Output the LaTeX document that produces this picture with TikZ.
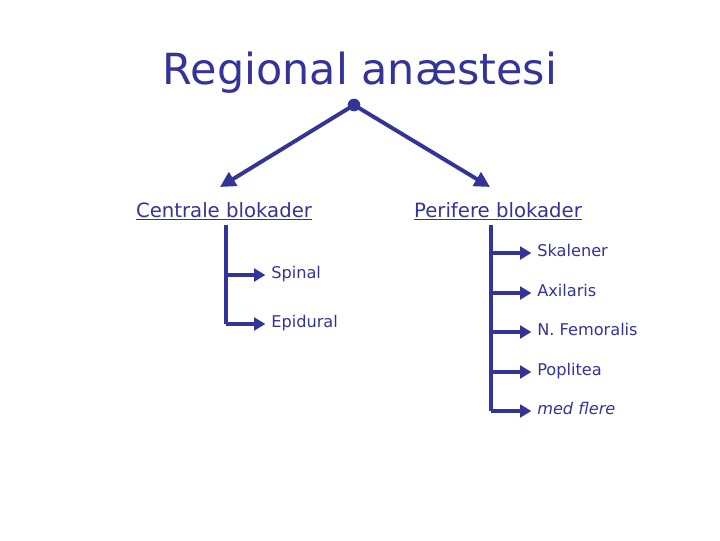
\documentclass[tikz,border=0pt]{standalone}
\usepackage{fontspec}
\setmainfont{DejaVu Sans}
\usepackage{tikz}
\usetikzlibrary{arrows.meta, positioning}
\usepackage{xcolor}
\definecolor{slideblue}{RGB}{51, 51, 153}

\begin{document}
\begin{tikzpicture}[x=0.025cm, y=-0.025cm, >=Triangle, slideblue]
  \tikzset{
    split/.style={->, line width=2.8pt, arrows={-Triangle[length=11pt, width=11pt]}},
    branch/.style={->, line width=2.3pt, arrows={-Triangle[length=8pt, width=9pt]}},
    head/.style={anchor=base, inner sep=0pt, font=\fontsize{14}{17}\selectfont},
    item/.style={anchor=mid west, inner sep=0pt, font=\fontsize{11.5}{14}\selectfont}
  }
  \useasboundingbox (0, 0) rectangle (720, 540);

  \node[anchor=base, inner sep=0pt, font=\fontsize{30.5}{36}\selectfont] (title) at (360, 84) {Regional anæstesi};
  \node[fill, circle, inner sep=0pt, minimum size=9pt] (top) at (354, 105) {};

  \coordinate (lend) at (220, 187);
  \coordinate (rend) at (490, 187);
  \draw[split] (top.center) -- (lend);
  \draw[split] (top.center) -- (rend);

  \node[head] (central) at (224, 217) {\underline{Centrale blokader}};
  \node[head] (periph) at (498, 217) {\underline{Perifere blokader}};

  % central blocks
  \coordinate (ltop) at (226, 225);
  \node[item] (spinal) at (271, 275) {Spinal};
  \node[item] (epidural) at (271, 324) {Epidural};
  \draw[line width=2.3pt] (ltop) -- (ltop|-epidural.mid west);
  \draw[branch] (ltop|-spinal.mid west) -- ([xshift=-4pt]spinal.mid west);
  \draw[branch] (ltop|-epidural.mid west) -- ([xshift=-4pt]epidural.mid west);

  % peripheral blocks
  \coordinate (rtop) at (491, 225);
  \node[item] (skal) at (537, 253) {Skalener};
  \node[item] (axil) at (537, 293) {Axilaris};
  \node[item] (femo) at (537, 332) {N. Femoralis};
  \node[item] (popl) at (537, 372) {Poplitea};
  \node[item, font=\fontsize{11.5}{14}\selectfont\itshape] (more) at (537, 411) {med flere};
  \draw[line width=2.3pt] (rtop) -- (rtop|-more.mid west);
  \draw[branch] (rtop|-skal.mid west) -- ([xshift=-4pt]skal.mid west);
  \draw[branch] (rtop|-axil.mid west) -- ([xshift=-4pt]axil.mid west);
  \draw[branch] (rtop|-femo.mid west) -- ([xshift=-4pt]femo.mid west);
  \draw[branch] (rtop|-popl.mid west) -- ([xshift=-4pt]popl.mid west);
  \draw[branch] (rtop|-more.mid west) -- ([xshift=-4pt]more.mid west);
\end{tikzpicture}
\end{document}
